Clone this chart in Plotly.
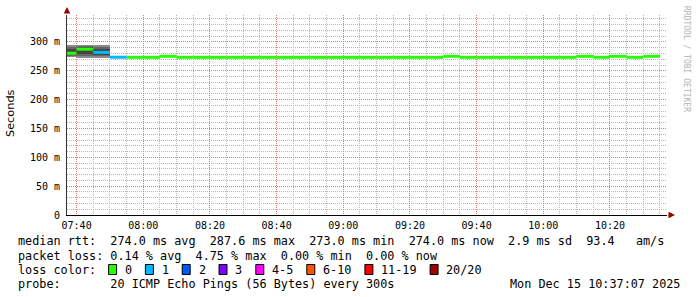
import plotly.graph_objects as go
import pandas as pd

# ---------------- data ----------------
step_start = pd.date_range("2025-12-15 07:35", periods=36, freq="5min")

median_ms = [280.5, 287.6, 282.0, 273.6, 273.4, 273.4, 275.2, 273.4, 273.4, 273.4,
             273.4, 273.4, 273.4, 273.4, 273.4, 273.4, 273.4, 273.4, 273.4, 273.4,
             273.4, 273.4, 273.4, 275.2, 273.4, 273.4, 273.4, 273.4, 273.4, 273.4,
             273.4, 275.2, 273.4, 275.2, 273.4, 275.2]
lost_pings = [0, 0, 1, 1, 0, 0, 0, 0, 0, 0,
              0, 0, 0, 0, 0, 0, 0, 0, 0, 0,
              0, 0, 0, 0, 0, 0, 0, 0, 0, 0,
              0, 0, 0, 0, 0, 0]

# smoke bands (ms) for the first three steps: outer / mid / inner
smoke_outer_lo = [274.0, 273.0, 273.0]
smoke_outer_hi = [294.0, 294.5, 294.0]
smoke_mid_lo = [276.0, 276.0, 275.0]
smoke_mid_hi = [291.0, 293.0, 291.0]
smoke_inner_lo = [278.0, 280.0, 277.0]
smoke_inner_hi = [288.5, 292.0, 288.0]

loss_labels = ["0", "1", "2", "3", "4-5", "6-10", "11-19", "20/20"]
loss_colors = ["#26ff00", "#00b8ff", "#0059ff", "#7e00ff", "#ff00ff", "#ff5500", "#ff0000", "#a10000"]

y_tick_ms = [0, 50, 100, 150, 200, 250, 300]
y_tick_text = ["0", "50 m", "100 m", "150 m", "200 m", "250 m", "300 m"]

line_rtt = "median rtt:  274.0 ms avg  287.6 ms max  273.0 ms min  274.0 ms now  2.9 ms sd  93.4   am/s"
line_loss = "packet loss: 0.14 % avg  4.75 % max  0.00 % min  0.00 % now"
line_color = "loss color:"
line_probe = "probe:       20 ICMP Echo Pings (56 Bytes) every 300s"
line_date = "Mon Dec 15 10:37:07 2025"
watermark = "RRDTOOL / TOBI OETIKER"

x_start = "2025-12-15 07:37:07"
x_end = "2025-12-15 10:37:07"

# ---------------- layout geometry ----------------
W, H = 697, 297
L, R, T, B = 67, 667, 15, 215
STEP = pd.Timedelta(minutes=5)
MONO = "DejaVu Sans Mono"


def px_x(px):
    return (px - L) / (R - L)


def px_y(py):
    return (B - py) / (B - T)


def nb(s):
    return s.replace(" ", "\u00a0")


fig = go.Figure()

# smoke
centers = [t + STEP / 2 for t in step_start[:3]]
for lo, hi, col in [(smoke_outer_lo, smoke_outer_hi, "#8a8a8a"),
                    (smoke_mid_lo, smoke_mid_hi, "#666666"),
                    (smoke_inner_lo, smoke_inner_hi, "#454545")]:
    fig.add_trace(go.Bar(
        x=centers, base=[v / 1000 for v in lo],
        y=[(h - l) / 1000 for l, h in zip(lo, hi)],
        width=STEP.total_seconds() * 1000,
        marker=dict(color=col, line=dict(width=0)),
        showlegend=False, hoverinfo="skip"))


def loss_index(n):
    if n <= 3:
        return n
    if n <= 5:
        return 4
    if n <= 10:
        return 5
    if n <= 19:
        return 6
    return 7


# median segments coloured by loss
for ci, col in enumerate(loss_colors):
    xs, ys = [], []
    for t, v, n in zip(step_start, median_ms, lost_pings):
        if loss_index(n) == ci:
            xs += [t, t + STEP, None]
            ys += [v / 1000, v / 1000, None]
    if xs:
        fig.add_trace(go.Scatter(x=xs, y=ys, mode="lines",
                                 line=dict(color=col, width=3),
                                 showlegend=False, hoverinfo="skip"))

ann = []
shapes = []

# text lines
for txt, yc in [(line_rtt, 241), (line_loss, 255.5), (line_color, 269.5), (line_probe, 283.5)]:
    ann.append(dict(x=px_x(16), y=px_y(yc), xref="paper", yref="paper", text=nb(txt),
                    showarrow=False, xanchor="left", yanchor="middle",
                    font=dict(family=MONO, size=11.8, color="#000")))
ann.append(dict(x=px_x(681.5), y=px_y(283.5), xref="paper", yref="paper", text=nb(line_date),
                showarrow=False, xanchor="right", yanchor="middle",
                font=dict(family=MONO, size=11.8, color="#000")))

# loss colour legend
bx = 108.6
for lab, col in zip(loss_labels, loss_colors):
    shapes.append(dict(type="rect", xref="paper", yref="paper",
                       x0=px_x(bx), x1=px_x(bx + 8), y0=px_y(274.5), y1=px_y(264.5),
                       fillcolor=col, line=dict(color="#000", width=1)))
    ann.append(dict(x=px_x(bx + 14.3), y=px_y(269.5), xref="paper", yref="paper", text=lab,
                    showarrow=False, xanchor="left", yanchor="middle",
                    font=dict(family=MONO, size=11.8, color="#000")))
    bx += 29.7 + 7.1 * len(lab)

# y-axis title
ann.append(dict(x=px_x(10.5), y=px_y(113.5), xref="paper", yref="paper", text="Seconds",
                textangle=-90, showarrow=False, xanchor="center", yanchor="middle",
                font=dict(family="DejaVu Sans", size=11.3, color="#000")))
# watermark
ann.append(dict(x=px_x(686), y=px_y(59), xref="paper", yref="paper", text=nb(watermark),
                textangle=90, showarrow=False, xanchor="center", yanchor="middle",
                font=dict(family=MONO, size=8, color="#b4b4b4")))
# axis arrows
ann.append(dict(x=px_x(675), y=0, xref="paper", yref="paper", ax=-8, ay=0, text="",
                showarrow=True, arrowhead=2, arrowsize=1.3, arrowwidth=1, arrowcolor="#9b0000"))
ann.append(dict(x=0, y=px_y(7), xref="paper", yref="paper", ax=0, ay=8, text="",
                showarrow=True, arrowhead=2, arrowsize=1.3, arrowwidth=1, arrowcolor="#9b0000"))

MAJ = "#dc7a7a"
MIN = "#b8b8b8"

fig.update_layout(
    width=W, height=H,
    margin=dict(l=L, r=W - R, t=T, b=H - B, pad=0),
    paper_bgcolor="#ffffff", plot_bgcolor="#ffffff",
    barmode="overlay", bargap=0,
    showlegend=False,
    annotations=ann, shapes=shapes,
    xaxis=dict(
        type="date", range=[x_start, x_end],
        tick0="2025-12-15 07:40", dtick=20 * 60 * 1000, tickformat="%H:%M",
        showgrid=True, gridcolor=MAJ, griddash="1px,1px", gridwidth=1,
        minor=dict(tick0="2025-12-15 07:40", dtick=5 * 60 * 1000, showgrid=True,
                   gridcolor=MIN, griddash="1px,1px", gridwidth=1),
        showline=True, linecolor="#000", linewidth=1,
        ticks="", ticklabelstandoff=1,
        tickfont=dict(family=MONO, size=10, color="#000"),
        zeroline=False, fixedrange=True,
    ),
    yaxis=dict(
        range=[0, 0.3468],
        tickmode="array", tickvals=[v / 1000 for v in y_tick_ms], ticktext=y_tick_text,
        showgrid=True, gridcolor=MAJ, griddash="1px,1px", gridwidth=1,
        minor=dict(tick0=0, dtick=0.01, showgrid=True,
                   gridcolor=MIN, griddash="1px,1px", gridwidth=1),
        showline=True, linecolor="#333", linewidth=1,
        ticks="", ticklabelstandoff=4,
        tickfont=dict(family=MONO, size=10, color="#000"),
        zeroline=False, fixedrange=True,
    ),
)

fig.write_html("out.html", config={"displayModeBar": False})
